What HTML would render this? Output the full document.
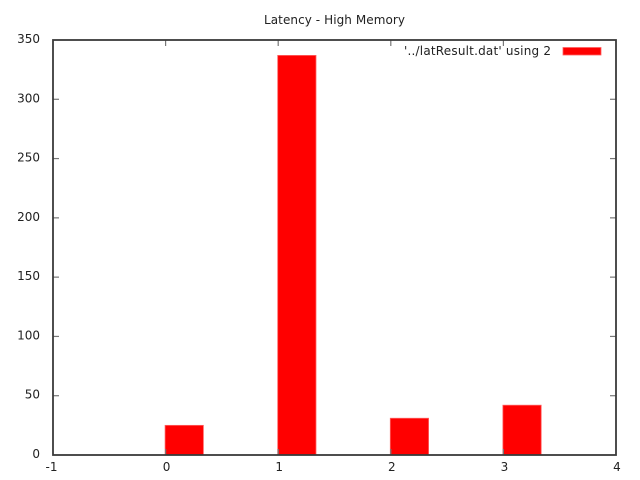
<!DOCTYPE html>
<html>
<head>
<meta charset="utf-8">
<title>Latency - High Memory</title>
<style>
html,body{margin:0;padding:0;background:#fff;width:640px;height:480px;overflow:hidden}
svg{display:block}
text{font-family:"DejaVu Sans",sans-serif;font-size:12px;fill:#222}
</style>
</head>
<body>
<svg id="chart" xmlns="http://www.w3.org/2000/svg" width="640" height="480" viewBox="0 0 640 480">
<rect x="0" y="0" width="640" height="480" fill="#ffffff"/>
<text x="264" y="24" textLength="141" lengthAdjust="spacing">Latency - High Memory</text>
<g id="bars"></g>
<g id="ticks"></g>
<rect x="53" y="40" width="563" height="415" fill="none" stroke="#3a3a3a" stroke-width="1.8"/>
<g id="labels"></g>
<g>
<text x="404" y="55" textLength="147" lengthAdjust="spacing">'../latResult.dat' using 2</text>
<rect x="563" y="47.5" width="38" height="7.5" fill="#ff0000" stroke="#ff6060" stroke-width="0.8"/>
</g>
</svg>
<script>
const categories = [0, 1, 2, 3];
const latencyValues = [25, 337, 31, 42];
const xTickValues = [-1, 0, 1, 2, 3, 4];
const yTickValues = [0, 50, 100, 150, 200, 250, 300, 350];

const NS = 'http://www.w3.org/2000/svg';
const plot = { left: 53, right: 616, top: 40, bottom: 455 };
const xDomain = [-1, 4];
const yDomain = [0, 350];
const barWidth = 0.34;
const barShift = -0.5;

function xScale(v) {
  return plot.left + (v - xDomain[0]) / (xDomain[1] - xDomain[0]) * (plot.right - plot.left);
}
function yScale(v) {
  return plot.bottom - (v - yDomain[0]) / (yDomain[1] - yDomain[0]) * (plot.bottom - plot.top);
}
function make(tag, attrs, parent) {
  const el = document.createElementNS(NS, tag);
  Object.keys(attrs).forEach(function (k) { el.setAttribute(k, attrs[k]); });
  parent.appendChild(el);
  return el;
}

const barsGroup = document.getElementById('bars');
const ticksGroup = document.getElementById('ticks');
const labelsGroup = document.getElementById('labels');

categories.forEach(function (c, i) {
  const x0 = xScale(c) + barShift;
  const x1 = xScale(c + barWidth) + barShift;
  const y0 = yScale(latencyValues[i]);
  const bar = make('rect', { x: x0, y: y0, width: x1 - x0, height: plot.bottom - y0, fill: '#ff0000', stroke: '#ff6060', 'stroke-width': 0.8 }, barsGroup);
  
  
});

xTickValues.forEach(function (v) {
  const x = xScale(v);
  const isEnd = v === xDomain[0] || v === xDomain[1];
  if (!isEnd) {
    const bottomTick = make('line', { x1: x, x2: x, y1: plot.bottom, y2: plot.bottom - 6, stroke: '#777', 'stroke-width': 1.2 }, ticksGroup);
    
    
    const topTick = make('line', { x1: x, x2: x, y1: plot.top, y2: plot.top + 6, stroke: '#777', 'stroke-width': 1.2 }, ticksGroup);
    
    
  }
  const labelShift = v < 0 ? -1.5 : 1;
  const label = make('text', { x: x + labelShift, y: 471, 'text-anchor': 'middle' }, labelsGroup);
  
  
  label.textContent = String(v);
});

yTickValues.forEach(function (v) {
  const y = yScale(v);
  const isEnd = v === yDomain[0] || v === yDomain[1];
  if (!isEnd) {
    const leftTick = make('line', { x1: plot.left, x2: plot.left + 6, y1: y, y2: y, stroke: '#777', 'stroke-width': 1.2 }, ticksGroup);
    
    
    const rightTick = make('line', { x1: plot.right, x2: plot.right - 6, y1: y, y2: y, stroke: '#777', 'stroke-width': 1.2 }, ticksGroup);
    
    
  }
  const label = make('text', { x: 40, y: y + 3, 'text-anchor': 'end' }, labelsGroup);
  
  
  label.textContent = String(v);
});
</script>
</body>
</html>
